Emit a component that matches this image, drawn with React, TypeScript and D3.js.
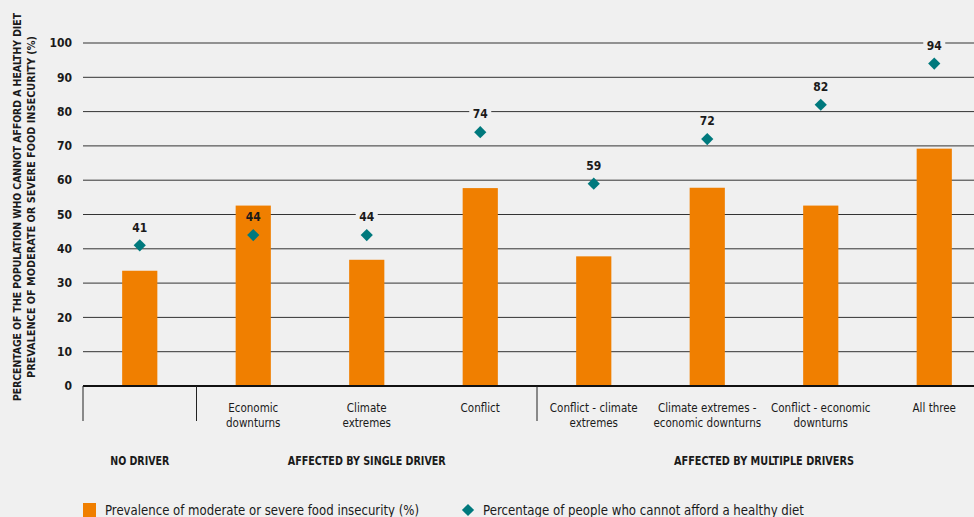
import * as d3 from 'd3';

const categories = [
    ['', ''],
    ['Economic', 'downturns'],
    ['Climate', 'extremes'],
    ['Conflict', ''],
    ['Conflict - climate', 'extremes'],
    ['Climate extremes -', 'economic downturns'],
    ['Conflict - economic', 'downturns'],
    ['All three', ''],
];
const foodInsecurity = [33.6, 52.6, 36.8, 57.7, 37.8, 57.8, 52.6, 69.2];
const healthyDiet = [41, 44, 44, 74, 59, 72, 82, 94];
const groups = [
    { label: 'NO DRIVER', from: 0, to: 1, len: 59 },
    { label: 'AFFECTED BY SINGLE DRIVER', from: 1, to: 4, len: 158 },
    { label: 'AFFECTED BY MULTIPLE DRIVERS', from: 4, to: 8, len: 180 },
];
const yTicks = [0, 10, 20, 30, 40, 50, 60, 70, 80, 90, 100];

const BG = '#f0f0f0';
const ORANGE = '#f07f00';
const TEAL = '#00797d';
const FONT = '"Liberation Sans Narrow", "DejaVu Sans Condensed", "Roboto", sans-serif';

export default function App() {
    const width = 974;
    const height = 517;
    const margin = { left: 83, top: 43, bottom: 131 };
    const y0 = height - margin.bottom;

    const x = d3
        .scaleBand()
        .domain(d3.range(categories.length).map(String))
        .range([margin.left, 991])
        .paddingInner(0.69)
        .paddingOuter(0.345);
    const step = x.step();
    const edge = (i) => margin.left + i * step;

    const y = d3.scaleLinear().domain([0, 100]).range([y0, margin.top]);

    const diamond = d3.symbol().type(d3.symbolDiamond2).size(95);

    return (
        <div style={{ position: 'absolute', left: 0, top: 0 }}>
            <svg width={width} height={height} style={{ display: 'block', background: BG }} fontFamily={FONT}>
                {yTicks.map((t) => (
                    <g key={t}>
                        {t > 0 && (
                            <line x1={margin.left} x2={width} y1={y(t)} y2={y(t)} stroke="#333" strokeWidth={1} />
                        )}
                        <text x={72} y={y(t)} dy="0.35em" textAnchor="end" fontSize={12} fontWeight={600} fill="#1a1a1a">
                            {t}
                        </text>
                    </g>
                ))}

                <g transform="translate(17,207) rotate(-90)" fontSize={11} fontWeight={700} fill="#1a1a1a" textAnchor="middle">
                    <text x={0} y={0} dy="0.35em" textLength={388} lengthAdjust="spacingAndGlyphs">
                        PERCENTAGE OF THE POPULATION WHO CANNOT AFFORD A HEALTHY DIET
                    </text>
                    <text x={0} y={14} dy="0.35em" textLength={342} lengthAdjust="spacingAndGlyphs">
                        PREVALENCE OF MODERATE OR SEVERE FOOD INSECURITY (%)
                    </text>
                </g>

                {/* label backgrounds knock out gridlines */}
                {healthyDiet.map((v, i) => (
                    <rect
                        key={'bg' + i}
                        x={x(String(i)) + x.bandwidth() / 2 - 11}
                        y={y(v) - 25}
                        width={22}
                        height={14}
                        fill={BG}
                    />
                ))}

                {foodInsecurity.map((v, i) => (
                    <rect key={'bar' + i} x={x(String(i))} y={y(v)} width={x.bandwidth()} height={y0 - y(v)} fill={ORANGE} />
                ))}

                {healthyDiet.map((v, i) => {
                    const cx = x(String(i)) + x.bandwidth() / 2;
                    return (
                        <g key={'pt' + i}>
                            <text x={cx} y={y(v) - 18} dy="0.35em" textAnchor="middle" fontSize={12} fontWeight={700} fill="#1a1a1a">
                                {v}
                            </text>
                            <path d={diamond()} transform={`translate(${cx},${y(v)})`} fill={TEAL} />
                        </g>
                    );
                })}

                <line x1={margin.left} x2={width} y1={y0} y2={y0} stroke="#111" strokeWidth={2} />
                {[0, 1, 4].map((i) => (
                    <line key={'div' + i} x1={edge(i)} x2={edge(i)} y1={y0} y2={y0 + 35} stroke="#222" strokeWidth={1} />
                ))}

                {categories.map((c, i) => {
                    const cx = x(String(i)) + x.bandwidth() / 2;
                    return (
                        <text key={'cat' + i} textAnchor="middle" fontSize={11.5} fill="#1a1a1a">
                            <tspan x={cx} y={y0 + 26}>{c[0]}</tspan>
                            <tspan x={cx} y={y0 + 41}>{c[1]}</tspan>
                        </text>
                    );
                })}

                {groups.map((g) => (
                    <text
                        key={g.label}
                        x={(edge(g.from) + edge(g.to)) / 2}
                        y={y0 + 79}
                        textAnchor="middle"
                        fontSize={12}
                        fontWeight={700}
                        fill="#1a1a1a"
                        textLength={g.len}
                        lengthAdjust="spacingAndGlyphs"
                    >
                        {g.label}
                    </text>
                ))}

                <g fontSize={13.5} fill="#1a1a1a">
                    <rect x={83} y={503} width={13} height={14} fill={ORANGE} />
                    <text x={105} y={515} textLength={314} lengthAdjust="spacingAndGlyphs">
                        Prevalence of moderate or severe food insecurity (%)
                    </text>
                    <path d={diamond()} transform="translate(468,510)" fill={TEAL} />
                    <text x={483} y={515} textLength={321} lengthAdjust="spacingAndGlyphs">
                        Percentage of people who cannot afford a healthy diet
                    </text>
                </g>
            </svg>
        </div>
    );
}
